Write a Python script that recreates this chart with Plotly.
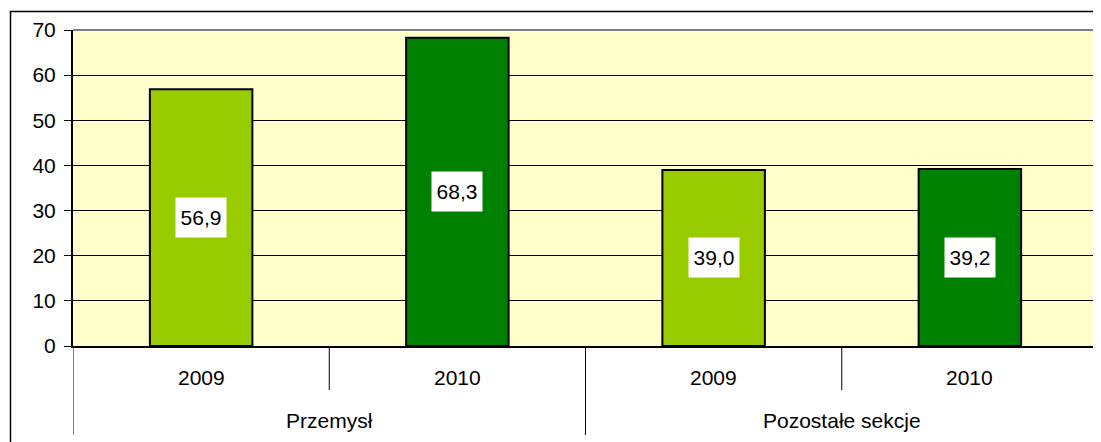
import plotly.graph_objects as go

groups = ["Przemysł", "Przemysł", "Pozostałe sekcje", "Pozostałe sekcje"]
years = ["2009", "2010", "2009", "2010"]
values = [56.9, 68.3, 39.0, 39.2]
value_labels = ["56,9", "68,3", "39,0", "39,2"]
year_colors = {"2009": "#99CC00", "2010": "#008000"}
y_ticks = [0, 10, 20, 30, 40, 50, 60, 70]

FONT = "Arial, Liberation Sans, sans-serif"
FS = 21
OFF = 8  # default body margin of the html page
W, H = 1101 - OFF, 442 - OFF
L, R, T, B = 73 - OFF, 1098 - OFF, 30 - OFF, 346 - OFF
pw, ph = R - L, B - T


def py(pix):
    return (B - (pix - OFF)) / ph


def px(pix):
    return ((pix - OFF) - L) / pw


keys = [g + " " + y for g, y in zip(groups, years)]

fig = go.Figure()
fig.add_trace(go.Bar(
    x=keys, y=values,
    marker=dict(color=[year_colors[y] for y in years],
                line=dict(color="black", width=2)),
    width=0.4, showlegend=False, hoverinfo="skip",
))

annotations = []
for k, v, lab in zip(keys, values, value_labels):
    annotations.append(dict(x=k, y=v / 2, xref="x", yref="y", text=lab,
                            showarrow=False, bgcolor="white", width=48, height=37,
                            font=dict(family=FONT, size=FS, color="black")))
for k, y in zip(keys, years):
    annotations.append(dict(x=k, y=py(377), xref="x", yref="paper", text=y,
                            showarrow=False, yanchor="middle",
                            font=dict(family=FONT, size=FS, color="black")))
# group labels
seen = []
for i, g in enumerate(groups):
    if g in seen:
        continue
    seen.append(g)
    idx = [j for j, gg in enumerate(groups) if gg == g]
    annotations.append(dict(x=(idx[0] + idx[-1]) / 2, y=py(420), xref="x", yref="paper",
                            text=g, showarrow=False, yanchor="middle",
                            font=dict(family=FONT, size=FS, color="black")))

shapes = []
# dividers
n = len(keys)
for i in range(n + 1):
    xb = i - 0.5
    is_group = i == 0 or i == n or groups[i] != groups[i - 1]
    shapes.append(dict(type="line", xref="x", yref="paper", x0=xb, x1=xb,
                       y0=0, y1=py(435 if is_group else 390),
                       line=dict(color="black", width=1)))
# plot area border (top/right grey)
shapes.append(dict(type="line", xref="paper", yref="paper", x0=0, x1=1, y0=1, y1=1,
                   line=dict(color="#808080", width=2)))
shapes.append(dict(type="line", xref="paper", yref="paper", x0=1, x1=1, y0=0, y1=1,
                   line=dict(color="#808080", width=2)))
# outer chart border (partially visible)
shapes.append(dict(type="rect", xref="paper", yref="paper", x0=px(10.5), x1=1.2,
                   y0=-0.6, y1=py(11.5), line=dict(color="black", width=1.5)))

fig.update_layout(
    width=W, height=H, autosize=False,
    margin=dict(l=L, r=W - R, t=T, b=H - B, pad=0),
    plot_bgcolor="#FFFFCC", paper_bgcolor="white",
    font=dict(family=FONT, size=FS, color="black"),
    bargap=0.6,
    annotations=annotations, shapes=shapes,
    xaxis=dict(type="category", range=[-0.5, n - 0.5], showticklabels=False,
               showgrid=False, zeroline=False, ticks="",
               showline=True, linecolor="black", linewidth=2),
    yaxis=dict(range=[0, 70], tickvals=y_ticks, ticks="outside", ticklen=7,
               tickcolor="black", tickwidth=1, showgrid=True, gridcolor="black",
               gridwidth=1, zeroline=False, showline=True, linecolor="black",
               linewidth=2, ticklabelstandoff=4,
               tickfont=dict(family=FONT, size=FS, color="black")),
)

fig.write_html("out.html")
